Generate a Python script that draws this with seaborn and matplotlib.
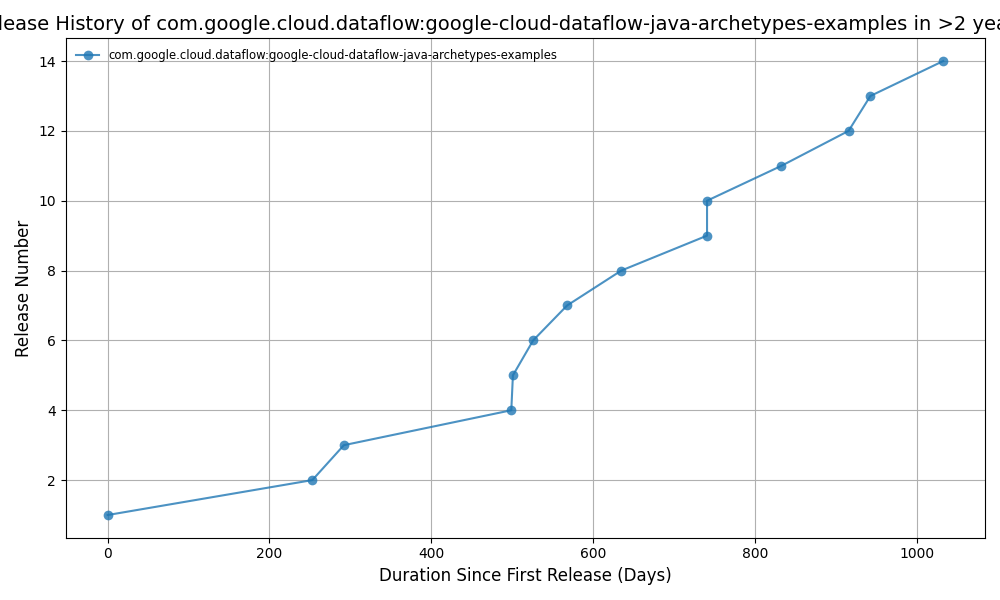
import matplotlib
matplotlib.use("Agg")
import matplotlib.pyplot as plt
import pandas as pd
import seaborn as sns

artifact = "com.google.cloud.dataflow:google-cloud-dataflow-java-archetypes-examples"
days = [0, 253, 292, 499, 501, 526, 568, 635, 741, 741, 833, 916, 943, 1033]
release_number = list(range(1, 15))

df = pd.DataFrame({"days": days, "release": release_number})

# plain matplotlib look (black text, default ticks)
sns.reset_orig()
plt.rcParams["font.family"] = ["DejaVu Sans"]

fig, ax = plt.subplots(figsize=(10, 6), dpi=100)
sns.lineplot(
    data=df, x="days", y="release", marker="o", estimator=None, sort=False,
    color="#1f77b4", alpha=0.8, markersize=7, markeredgewidth=0,
    linewidth=1.5, label=artifact, ax=ax,
)
ax.grid(True, color="#b0b0b0", linewidth=0.8)
ax.set_title(f"Release History of {artifact} in >2 years", fontsize=14, x=0.472)
ax.set_xlabel("Duration Since First Release (Days)", fontsize=12)
ax.set_ylabel("Release Number", fontsize=12)
ax.legend(loc="upper left", fontsize="small", frameon=False)

plt.tight_layout()
fig.savefig("out.png", dpi=100)
